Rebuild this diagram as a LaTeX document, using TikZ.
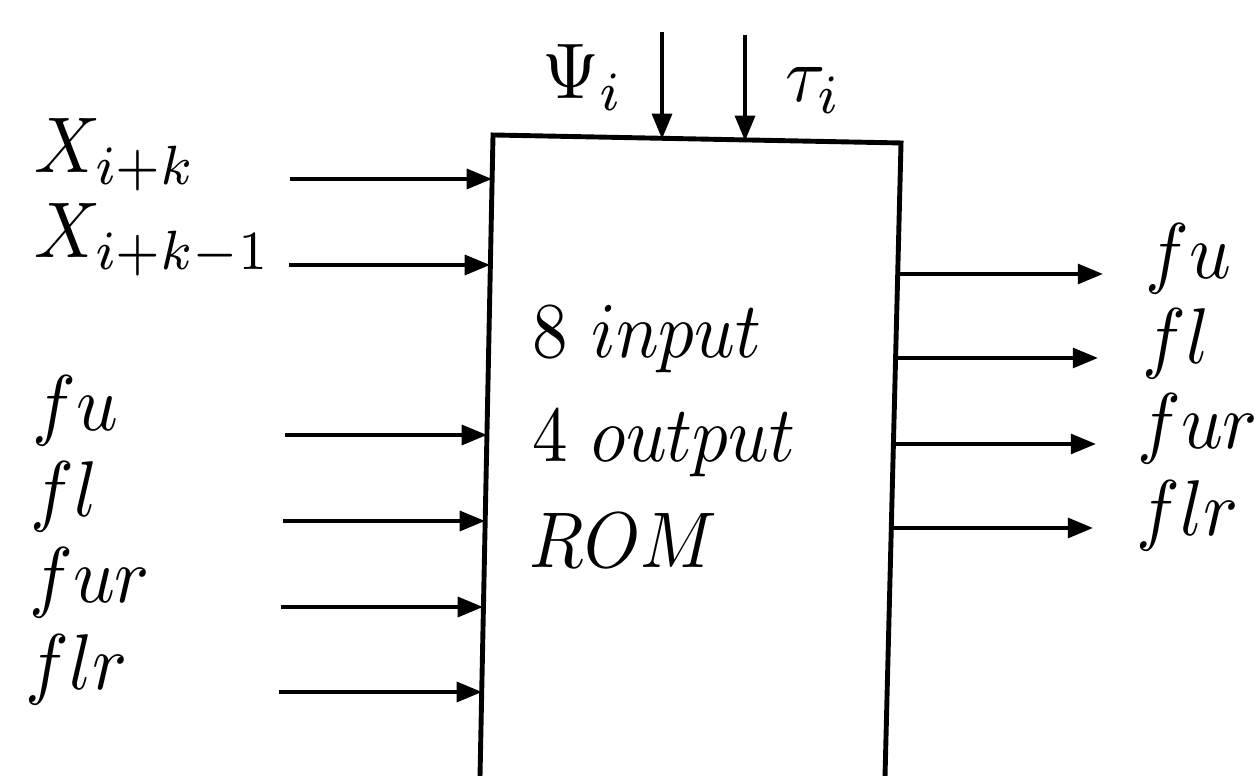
\documentclass[tikz,border=0pt]{standalone}
\usepackage{graphicx}
\usetikzlibrary{arrows.meta}
\newcommand\squeezetext[1]{\scalebox{0.925}[1]{#1}}
\newcommand\squeezebox[1]{\scalebox{0.9}[1]{#1}}
\tikzset{
  lab/.style={inner sep=0pt, anchor=base west},
  sig/.style={line width=0.5pt, -{Triangle[length=3.2pt,width=2.5pt]}},
  boxline/.style={line width=0.62pt, line join=miter}
}
\begin{document}
\begin{tikzpicture}[x=0.12658pt,y=-0.12658pt]
\useasboundingbox (0,0) rectangle (1260,776);
% ROM box (open at the bottom)
\coordinate (BL) at (480,776);
\coordinate (TL) at (493,135);
\coordinate (TR) at (901,143);
\coordinate (BR) at (885,776);
\draw[boxline] (BL) -- (TL) -- (TR) -- (BR);
% box text
\node[lab] (t1) at (531,358) {\squeezebox{$8$ $input$}};
\node[lab] (t2) at (531,462) {\squeezebox{$4$ $output$}};
\node[lab] (t3) at (528,568) {\squeezebox{$ROM$}};
% top inputs
\node[lab] (psi) at (541,99) {\squeezetext{$\Psi_i$}};
\node[lab] (tau) at (784,102) {\squeezetext{$\tau_i$}};
\coordinate (psiS) at (662,32);
\coordinate (psiE) at (662,139);
\coordinate (tauS) at (745,35);
\coordinate (tauE) at (745,141);
\draw[sig] (psiS) -- (psiE);
\draw[sig] (tauS) -- (tauE);
% left inputs
\node[lab] (lx1) at (33,173) {\squeezetext{$X_{i+k}$}};
\node[lab] (lx2) at (33,258) {\squeezetext{$X_{i+k-1}$}};
\node[lab] (lfu) at (31,431) {\squeezetext{$fu$}};
\node[lab] (lfl) at (29,517) {\squeezetext{$fl$}};
\node[lab] (lfur) at (28,603) {\squeezetext{$fur$}};
\node[lab] (lflr) at (24,690) {\squeezetext{$flr$}};
\coordinate (a1) at (290,179); \coordinate (b1) at (492,179);
\coordinate (a2) at (289,265); \coordinate (b2) at (490,265);
\coordinate (a3) at (285,435); \coordinate (b3) at (487,435);
\coordinate (a4) at (283,521); \coordinate (b4) at (485,521);
\coordinate (a5) at (281,607); \coordinate (b5) at (483,607);
\coordinate (a6) at (279,692); \coordinate (b6) at (482,692);
\foreach \i in {1,...,6} \draw[sig] (a\i) -- (b\i);
% right outputs
\node[lab] (rfu) at (1144,279) {\squeezetext{$fu$}};
\node[lab] (rfl) at (1141,364) {\squeezetext{$fl$}};
\node[lab] (rfur) at (1136,449) {\squeezetext{$fur$}};
\node[lab] (rflr) at (1135,536) {\squeezetext{$flr$}};
\coordinate (c1) at (898,274); \coordinate (d1) at (1103,274);
\coordinate (c2) at (896,358); \coordinate (d2) at (1098,358);
\coordinate (c3) at (893,444); \coordinate (d3) at (1096,444);
\coordinate (c4) at (891,528); \coordinate (d4) at (1093,528);
\foreach \i in {1,...,4} \draw[sig] (c\i) -- (d\i);
\end{tikzpicture}
\end{document}
